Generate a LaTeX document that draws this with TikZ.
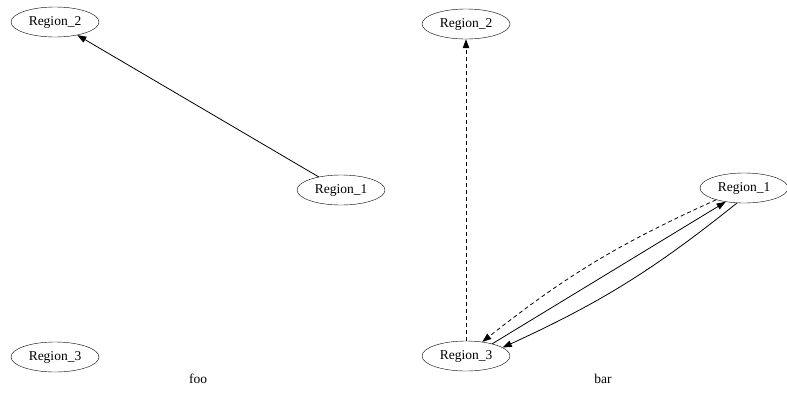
\documentclass[tikz,border=0pt]{standalone}
\usepackage{fontspec}
\setmainfont{Liberation Serif}
\usetikzlibrary{arrows.meta,shapes.geometric}

\begin{document}
\begin{tikzpicture}[x=1pt,y=-1pt,>={Triangle[length=9pt,width=6.5pt]},
  region/.style={draw,ellipse,minimum width=88pt,minimum height=30pt,inner sep=0pt,font=\fontsize{13.5}{15}\selectfont},
  caption/.style={font=\fontsize{13.5}{15}\selectfont},
  link/.style={->,line width=0.8pt},
  dlink/.style={link,dash pattern=on 4pt off 3pt}]
  \useasboundingbox (0,0) rectangle (787,394);
  % foo
  \node[region] (l2) at (55,22){Region\_2};
  \node[region] (l1) at (341,190){Region\_1};
  \node[region] (l3) at (55,357){Region\_3};
  \node[caption] (foo) at (198,379){foo};
  \draw[link] (l1)--(l2);
  % bar
  \node[region] (r2) at (466,24){Region\_2};
  \node[region] (r1) at (744,188){Region\_1};
  \node[region] (r3) at (466,356){Region\_3};
  \node[caption] (bar) at (603,379){bar};
  \draw[dlink] (r3)--(r2);
  \draw[dlink] (r1.203) to[bend right=7] (r3.41);
  \draw[link] (r3.25) -- (r1.217);
  \draw[link] (r1.245) to[bend left=7] (r3.13);
\end{tikzpicture}
\end{document}
